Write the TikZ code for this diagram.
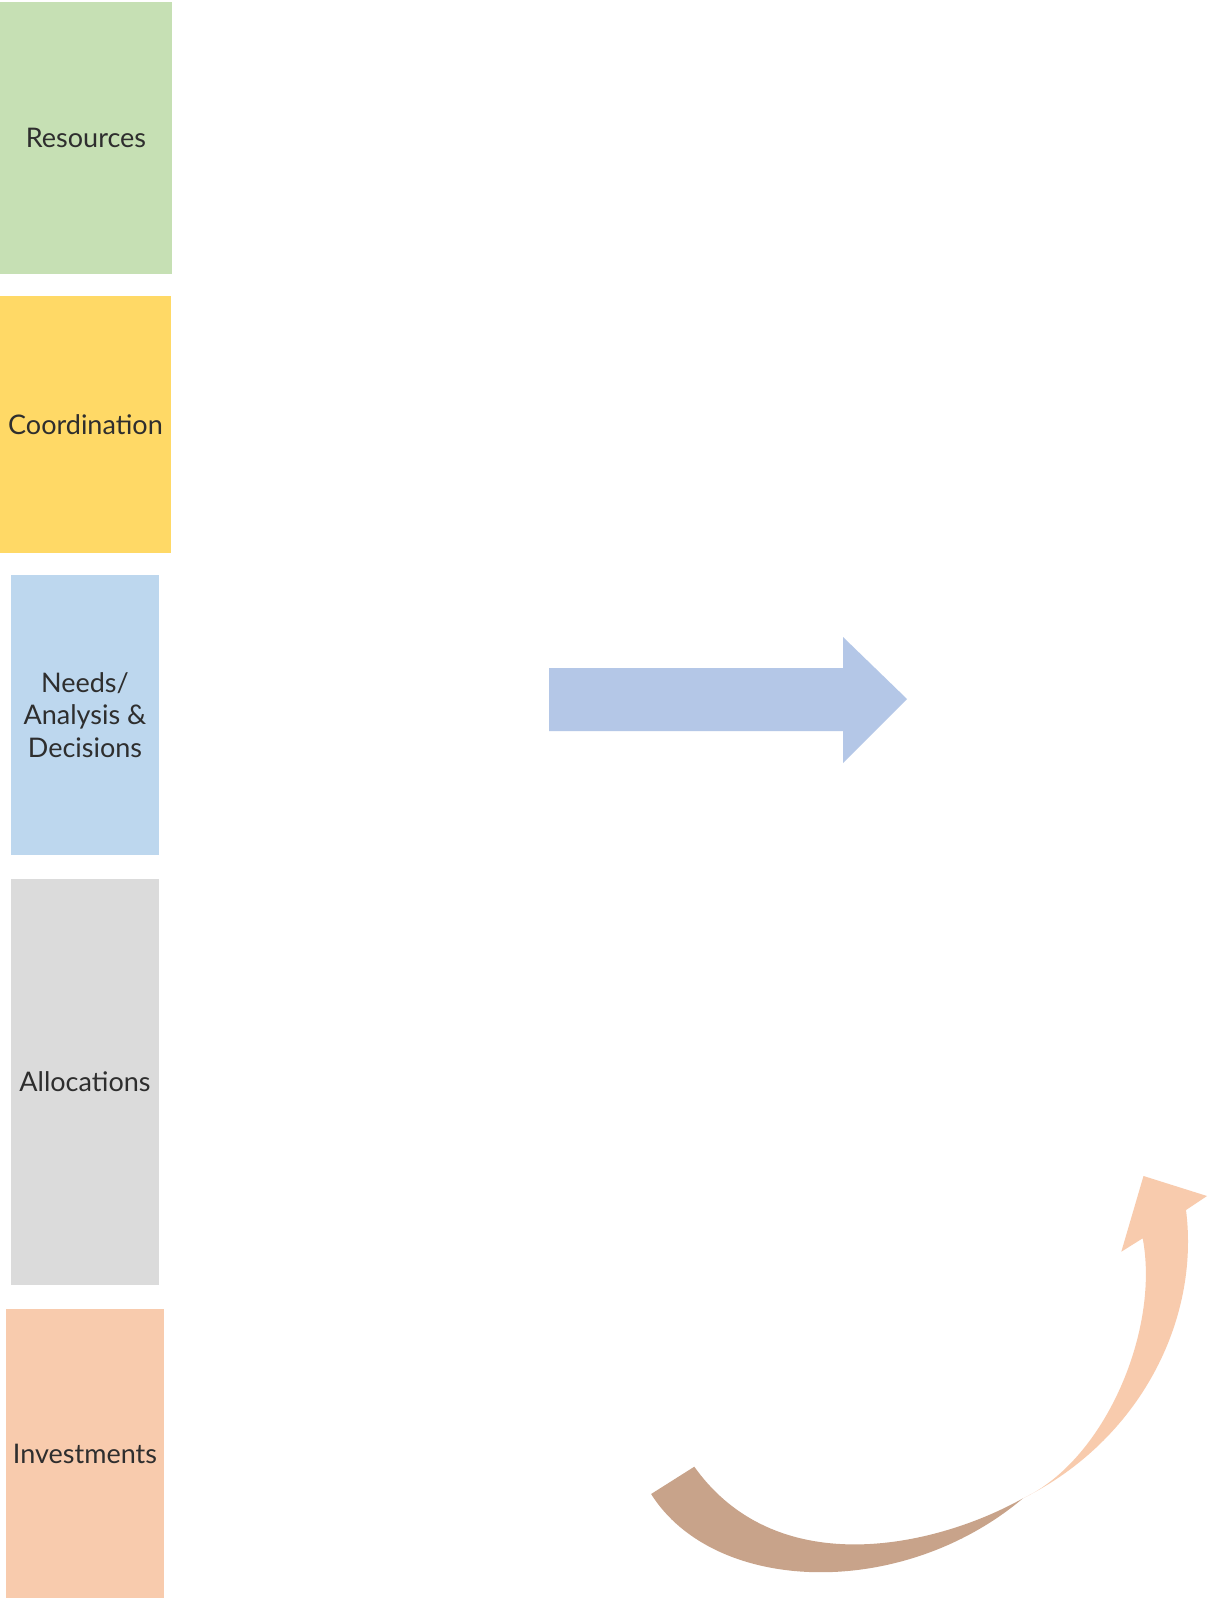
\documentclass[tikz,border=0pt]{standalone}
\usepackage{fontspec}
\setmainfont{Lato}
\begin{document}
\begin{tikzpicture}[x=1pt,y=-1pt,
  box/.style={rectangle, inner sep=0pt, draw=none, align=center,
    font=\fontsize{27}{32.5}\selectfont, text=black!82},
  ]
\definecolor{cgreen}{HTML}{C6E0B4}
\definecolor{cyellow}{HTML}{FFD966}
\definecolor{cblue}{HTML}{BDD7EE}
\definecolor{cgray}{HTML}{DBDBDB}
\definecolor{corange}{HTML}{F8CBAD}
\definecolor{carrow}{HTML}{B4C7E7}
\definecolor{cbrown}{HTML}{C8A38A}
\useasboundingbox[fill=white] (0,0) rectangle (1209,1598);

\node[box, fill=cgreen, minimum width=172pt, minimum height=272pt] (res) at (86,138) {Resources};
\node[box, fill=cyellow, minimum width=171pt, minimum height=257pt] (coo) at (85.5,424.5) {Coordination};
\node[box, fill=cblue, minimum width=148pt, minimum height=280pt] (nee) at (85,715) {Needs/\\Analysis \&\\Decisions};
\node[box, fill=cgray, minimum width=148pt, minimum height=406pt] (all) at (85,1082) {Allocations};
\node[box, fill=corange, minimum width=158pt, minimum height=289pt] (inv) at (85,1453.5) {Investments};

% straight block arrow
\fill[carrow] (549,668) -- (843,668) -- (843,637) -- (907,699) -- (843,763) -- (843,731) -- (549,731) -- cycle;

% curved arrow: back (dark) band
\fill[cbrown] (651.1,1494) .. controls (714,1594) and (901,1601) .. (1023,1498.3)
  .. controls (940,1545) and (778.7,1585) .. (694.3,1466.7) -- cycle;
% front (light) band with head
\fill[corange] (1023,1498.3) .. controls (1140,1440) and (1200,1320) .. (1186,1210)
  -- (1207,1196) -- (1143.5,1176) -- (1121.3,1251.7) -- (1142.7,1238.3)
  .. controls (1160,1330) and (1105,1460) .. (1023,1498.3) -- cycle;
\end{tikzpicture}
\end{document}
